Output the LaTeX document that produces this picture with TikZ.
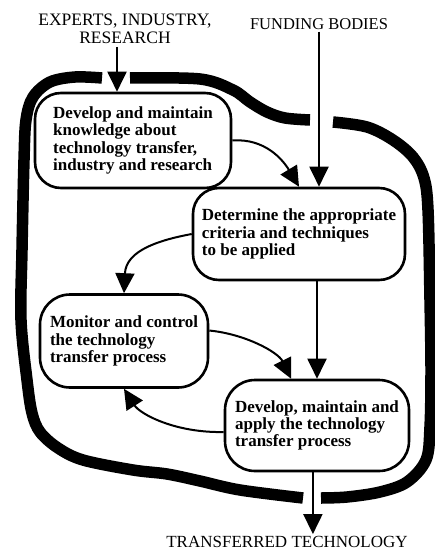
\documentclass[tikz,border=0pt]{standalone}
\usepackage{fontspec}
\setmainfont{Liberation Serif}
\usetikzlibrary{arrows.meta}
\begin{document}
\begin{tikzpicture}[x=1pt,y=-1pt,
  band/.style={line width=11.5pt, line cap=butt, line join=round},
  procbox/.style={draw, line width=2.6pt, rounded corners=26pt, align=left,
    font=\bfseries\fontsize{17}{17.3}\selectfont, inner sep=0pt},
  conn/.style={line width=2pt, -{Triangle[length=20pt,width=19pt]}},
  headtxt/.style={align=center, inner sep=2pt}
]
\useasboundingbox (0,0) rectangle (435,551);

% header / footer texts
\node[headtxt, font=\fontsize{17.5}{18}\selectfont] (ex) at (125,29) {EXPERTS, INDUSTRY,\\RESEARCH};
\node[headtxt, font=\fontsize{16.5}{18}\selectfont] (fb) at (319,24) {FUNDING BODIES};
\node[headtxt, font=\fontsize{17}{18}\selectfont] (tt) at (287,542) {TRANSFERRED TECHNOLOGY};
\coordinate (exin) at (117,47);

% process boxes
\node[procbox, minimum width=196pt, minimum height=95pt] (b1) at (133,140.5)
  {Develop and maintain\\knowledge about\\technology transfer,\\industry and research};
\node[procbox, minimum width=212pt, minimum height=92pt] (b2) at (299,234)
  {Determine the appropriate\\criteria and techniques\\to be applied};
\node[procbox, minimum width=168pt, minimum height=93pt, rounded corners=30pt] (b3) at (124,341)
  {Monitor and control\\the technology\\transfer process};
\node[procbox, minimum width=184pt, minimum height=91pt, rounded corners=30pt] (b4) at (317,425.5)
  {Develop, maintain and\\apply the technology\\transfer process};

% thick boundary band
\draw[band] plot[smooth, tension=0.55] coordinates
  {(130,78) (200,79) (233,90) (250,102) (267,112) (285,118) (310,120)};
\draw[band] plot[smooth, tension=0.55] coordinates
  {(333,122) (367,127) (393,140) (413,157) (424,178) (428,210) (430,300) (431,370)
   (430,427) (426,460) (407,482) (380,492) (347,497) (321,498)};
\draw[band] plot[smooth, tension=0.55] coordinates
  {(303,498) (240,490) (200,481) (167,474) (133,470) (83,460) (58,448) (40,432)
   (32,413) (27,380) (21,320) (22,250) (24,160) (26,120) (33,97) (50,82) (75,77) (102,78)};

% connectors
\draw[conn] (exin) -- (exin |- b1.north);
\draw[conn] (fb.south) -- (fb.south |- b2.north);
\draw[conn] (b1.east) .. controls (265,138) and (283,160) .. (b2.north);
\draw[conn] (b2.west) .. controls (160,240) and (126,250) .. (b3.north);
\draw[conn] (b4.north |- b2.south) -- (b4.north);
\draw[conn] (b3.7) .. controls (245,334) and (278,352) .. (b4.119);
\draw[conn] (b4.184) .. controls (175,433) and (140,414) .. (b3.south);
\draw[conn] (b4.265) -- (b4.265 |- tt.north);
\end{tikzpicture}
\end{document}
